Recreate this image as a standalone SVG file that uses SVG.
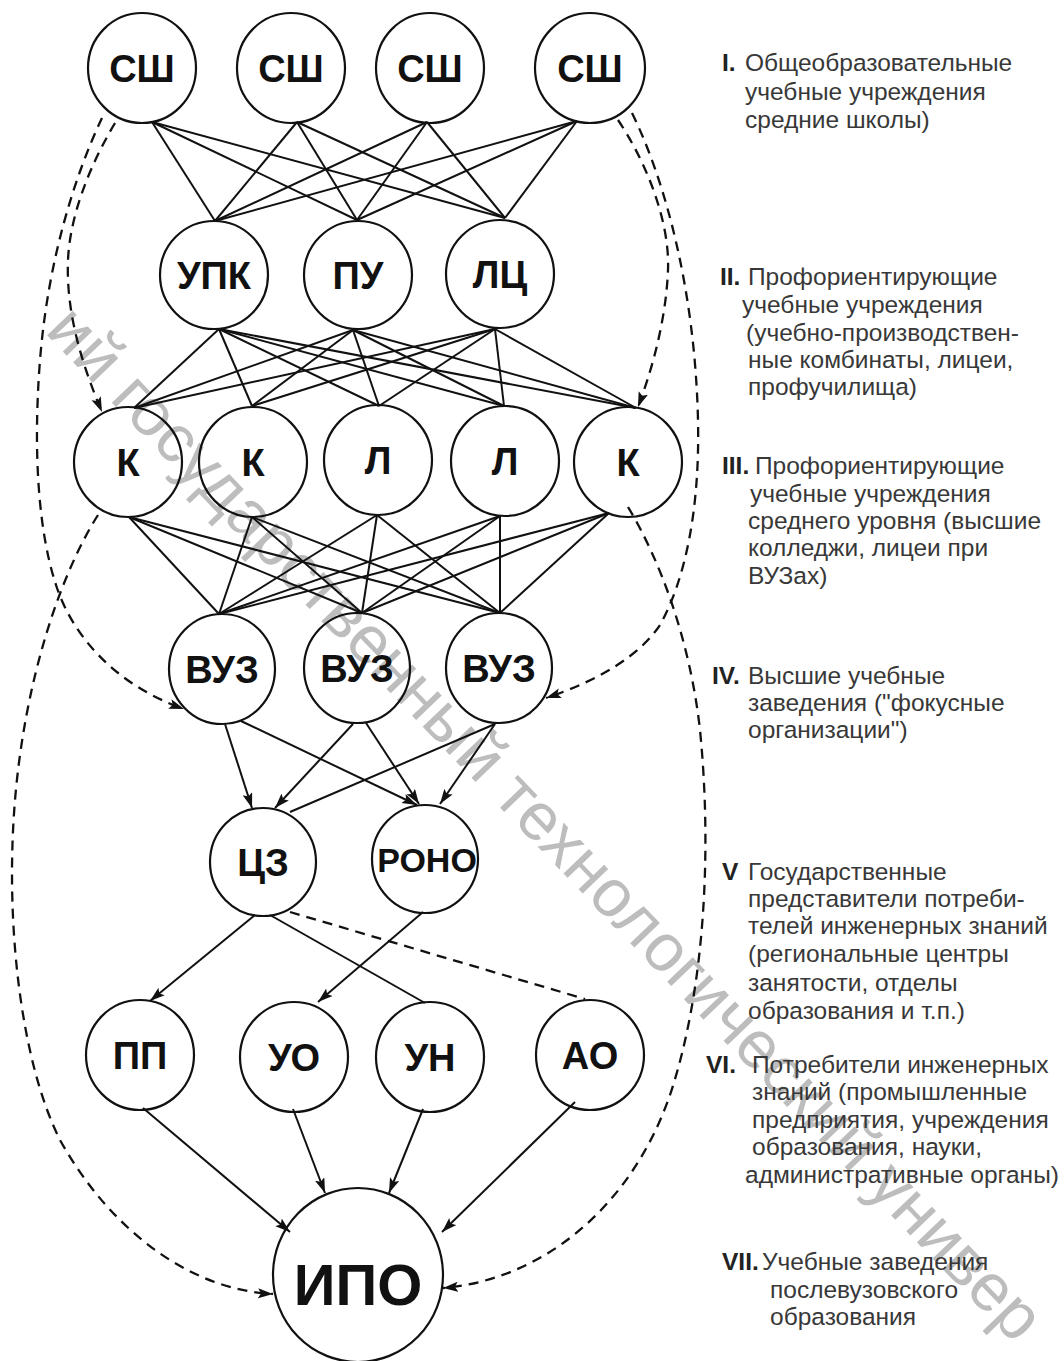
<svg xmlns="http://www.w3.org/2000/svg" width="1064" height="1361" viewBox="0 0 1064 1361">
<defs>
<marker id="ah" markerUnits="userSpaceOnUse" markerWidth="18" markerHeight="12" refX="15" refY="5" orient="auto">
<path d="M0,0 L15,5 L0,10 L3,5 z" fill="#111"/>
</marker>
<style>
.n ellipse{fill:none;stroke:#111;stroke-width:2.2}
.n text{font-family:"Liberation Sans",Arial,sans-serif;font-weight:bold;font-size:38px;fill:#111;text-anchor:middle}
.e line,.e path{stroke:#111;stroke-width:2;fill:none}
.e .d{stroke-dasharray:10 7;stroke-width:2.3}
.e .a{marker-end:url(#ah)}
.lb text{font-family:"Liberation Sans",Arial,sans-serif;font-size:24.5px;fill:#383838}
.lb .r{font-weight:bold;fill:#222}
.wm{font-family:"Liberation Sans",Arial,sans-serif;font-size:67px;fill:#bdbdbd}
</style>
</defs>
<rect width="1064" height="1361" fill="#fff"/>
<text class="wm" transform="translate(44,332) rotate(46.2)">ий государственный технологический универ</text>

<g class="e" id="connectors">
<!-- level 1 to 2 -->
<line x1="152" y1="122" x2="215" y2="221"/><line x1="152" y1="122" x2="357" y2="220"/><line x1="152" y1="122" x2="505" y2="218"/>
<line x1="297" y1="122" x2="215" y2="221"/><line x1="297" y1="122" x2="357" y2="220"/><line x1="297" y1="122" x2="505" y2="218"/>
<line x1="427" y1="122" x2="215" y2="221"/><line x1="427" y1="122" x2="357" y2="220"/><line x1="427" y1="122" x2="505" y2="218"/>
<line x1="577" y1="121" x2="215" y2="221"/><line x1="577" y1="121" x2="357" y2="220"/><line x1="577" y1="121" x2="505" y2="218"/>
<!-- level 2 to 3 -->
<line x1="219" y1="329" x2="134" y2="408"/><line x1="219" y1="329" x2="252" y2="406"/><line x1="219" y1="329" x2="379" y2="406"/><line x1="219" y1="329" x2="504" y2="406"/><line x1="219" y1="329" x2="636" y2="408"/>
<line x1="353" y1="330" x2="134" y2="408"/><line x1="353" y1="330" x2="252" y2="406"/><line x1="353" y1="330" x2="379" y2="406"/><line x1="353" y1="330" x2="504" y2="406"/><line x1="353" y1="330" x2="636" y2="408"/>
<line x1="495" y1="329" x2="134" y2="408"/><line x1="495" y1="329" x2="252" y2="406"/><line x1="495" y1="329" x2="379" y2="406"/><line x1="495" y1="329" x2="504" y2="406"/><line x1="495" y1="329" x2="636" y2="408"/>
<!-- level 3 to 4 -->
<line x1="129" y1="517" x2="219" y2="614"/><line x1="129" y1="517" x2="362" y2="613"/><line x1="129" y1="517" x2="500" y2="613"/>
<line x1="252" y1="517" x2="219" y2="614"/><line x1="252" y1="517" x2="362" y2="613"/><line x1="252" y1="517" x2="500" y2="613"/>
<line x1="377" y1="515" x2="219" y2="614"/><line x1="377" y1="515" x2="362" y2="613"/><line x1="377" y1="515" x2="500" y2="613"/>
<line x1="500" y1="516" x2="219" y2="614"/><line x1="500" y1="516" x2="362" y2="613"/><line x1="500" y1="516" x2="500" y2="613"/>
<line x1="609" y1="513" x2="219" y2="614"/><line x1="609" y1="513" x2="362" y2="613"/><line x1="609" y1="513" x2="500" y2="613"/>
<!-- level 4 to 5 -->
<line class="a" x1="225" y1="724" x2="252" y2="808"/>
<line class="a" x1="241" y1="721" x2="417" y2="805"/>
<line class="a" x1="353" y1="724" x2="275" y2="808"/>
<line class="a" x1="366" y1="723" x2="419" y2="804"/>
<line x1="495" y1="724" x2="290" y2="812"/>
<line class="a" x1="495" y1="724" x2="440" y2="804"/>
<!-- level 5 to 6 -->
<line class="a" x1="255" y1="915" x2="150" y2="1001"/>
<line x1="270" y1="915" x2="425" y2="1003"/>
<line class="a" x1="423" y1="912" x2="318" y2="1002"/>
<line class="d" x1="290" y1="912" x2="585" y2="999"/>
<!-- level 6 to 7 -->
<line class="a" x1="143" y1="1108" x2="290" y2="1232"/>
<line class="a" x1="293" y1="1109" x2="325" y2="1193"/>
<line class="a" x1="423" y1="1109" x2="389" y2="1193"/>
<line class="a" x1="575" y1="1102" x2="442" y2="1232"/>
<!-- dashed long links -->
<path class="d a" d="M115,123 C90,165 70,215 68,260 C66,310 80,360 102,412"/>
<path class="d a" d="M102,118 C75,175 48,260 40,360 C33,450 38,530 56,585 C72,635 115,685 184,709"/>
<path class="d a" d="M98,515 C60,575 25,680 15,800 C5,920 20,1060 60,1140 C110,1230 190,1290 273,1294"/>
<path class="d a" d="M618,120 C645,160 670,220 668,270 C666,320 652,370 638,407"/>
<path class="d a" d="M632,113 C665,180 695,290 698,420 C700,510 685,580 660,625 C640,655 600,680 546,698"/>
<path class="d a" d="M628,507 C660,560 690,640 700,730 C712,850 705,990 670,1095 C630,1210 540,1280 443,1288"/>
</g>

<g class="n" id="n-sh1"><ellipse cx="142" cy="68" rx="54" ry="55"/><text x="142" y="82">СШ</text></g>
<g class="n" id="n-sh2"><ellipse cx="291" cy="68" rx="54" ry="55"/><text x="291" y="82">СШ</text></g>
<g class="n" id="n-sh3"><ellipse cx="430" cy="68" rx="54" ry="55"/><text x="430" y="82">СШ</text></g>
<g class="n" id="n-sh4"><ellipse cx="590" cy="68" rx="55" ry="55"/><text x="590" y="82">СШ</text></g>

<g class="n" id="n-upk"><ellipse cx="214" cy="275" rx="54" ry="54"/><text x="214" y="289">УПК</text></g>
<g class="n" id="n-pu"><ellipse cx="358" cy="275" rx="54" ry="54"/><text x="358" y="289">ПУ</text></g>
<g class="n" id="n-lc"><ellipse cx="500" cy="274" rx="54" ry="54"/><text x="500" y="288">ЛЦ</text></g>

<g class="n" id="n-k1"><ellipse cx="128" cy="462" rx="54" ry="55"/><text x="128" y="476">К</text></g>
<g class="n" id="n-k2"><ellipse cx="253" cy="462" rx="54" ry="55"/><text x="253" y="476">К</text></g>
<g class="n" id="n-l3"><ellipse cx="378" cy="460" rx="54" ry="55"/><text x="378" y="474">Л</text></g>
<g class="n" id="n-l4"><ellipse cx="505" cy="461" rx="54" ry="55"/><text x="505" y="475">Л</text></g>
<g class="n" id="n-k5"><ellipse cx="628" cy="462" rx="54" ry="55"/><text x="628" y="476">К</text></g>

<g class="n" id="n-vuz1"><ellipse cx="222" cy="669" rx="53" ry="55"/><text x="222" y="683">ВУЗ</text></g>
<g class="n" id="n-vuz2"><ellipse cx="357" cy="668" rx="53" ry="55"/><text x="357" y="682">ВУЗ</text></g>
<g class="n" id="n-vuz3"><ellipse cx="499" cy="668" rx="53" ry="55"/><text x="499" y="682">ВУЗ</text></g>

<g class="n" id="n-cz"><ellipse cx="263" cy="862" rx="53" ry="54"/><text x="263" y="876">ЦЗ</text></g>
<g class="n" id="n-rono"><ellipse cx="425" cy="859" rx="53" ry="54"/><text x="427" y="872" style="font-size:34px">РОНО</text></g>

<g class="n" id="n-pp"><ellipse cx="140" cy="1055" rx="54" ry="55"/><text x="140" y="1069">ПП</text></g>
<g class="n" id="n-uo"><ellipse cx="294" cy="1057" rx="54" ry="55"/><text x="294" y="1071">УО</text></g>
<g class="n" id="n-un"><ellipse cx="430" cy="1057" rx="54" ry="55"/><text x="430" y="1071">УН</text></g>
<g class="n" id="n-ao"><ellipse cx="590" cy="1055" rx="54" ry="55"/><text x="590" y="1069">АО</text></g>

<g class="n" id="n-ipo"><ellipse cx="358" cy="1275" rx="85" ry="87"/><text x="358" y="1305" style="font-size:58px">ИПО</text></g>

<g class="lb" id="labels">
<text x="722" y="71"><tspan class="r">I.</tspan></text><text x="745" y="71">Общеобразовательные</text>
<text x="745" y="100">учебные учреждения</text>
<text x="745" y="128">средние школы)</text>

<text x="720" y="285"><tspan class="r">II.</tspan></text><text x="748" y="285">Профориентирующие</text>
<text x="742" y="313">учебные учреждения</text>
<text x="746" y="341">(учебно-производствен-</text>
<text x="748" y="368">ные комбинаты, лицеи,</text>
<text x="748" y="395">профучилища)</text>

<text x="722" y="474"><tspan class="r">III.</tspan></text><text x="755" y="474">Профориентирующие</text>
<text x="750" y="502">учебные учреждения</text>
<text x="748" y="529">среднего уровня (высшие</text>
<text x="748" y="556">колледжи, лицеи при</text>
<text x="748" y="584">ВУЗах)</text>

<text x="712" y="684"><tspan class="r">IV.</tspan></text><text x="748" y="684">Высшие учебные</text>
<text x="748" y="711">заведения ("фокусные</text>
<text x="748" y="738">организации")</text>

<text x="722" y="880"><tspan class="r">V</tspan></text><text x="748" y="880">Государственные</text>
<text x="748" y="907">представители потреби-</text>
<text x="748" y="934">телей инженерных знаний</text>
<text x="748" y="962">(региональные центры</text>
<text x="748" y="991">занятости, отделы</text>
<text x="748" y="1019">образования и т.п.)</text>

<text x="706" y="1073"><tspan class="r">VI.</tspan></text><text x="752" y="1073">Потребители инженерных</text>
<text x="752" y="1100">знаний (промышленные</text>
<text x="752" y="1128">предприятия, учреждения</text>
<text x="752" y="1155">образования, науки,</text>
<text x="745" y="1183">административные органы)</text>

<text x="722" y="1270"><tspan class="r">VII.</tspan></text><text x="762" y="1270">Учебные заведения</text>
<text x="770" y="1298">послевузовского</text>
<text x="770" y="1325">образования</text>
</g>
</svg>
